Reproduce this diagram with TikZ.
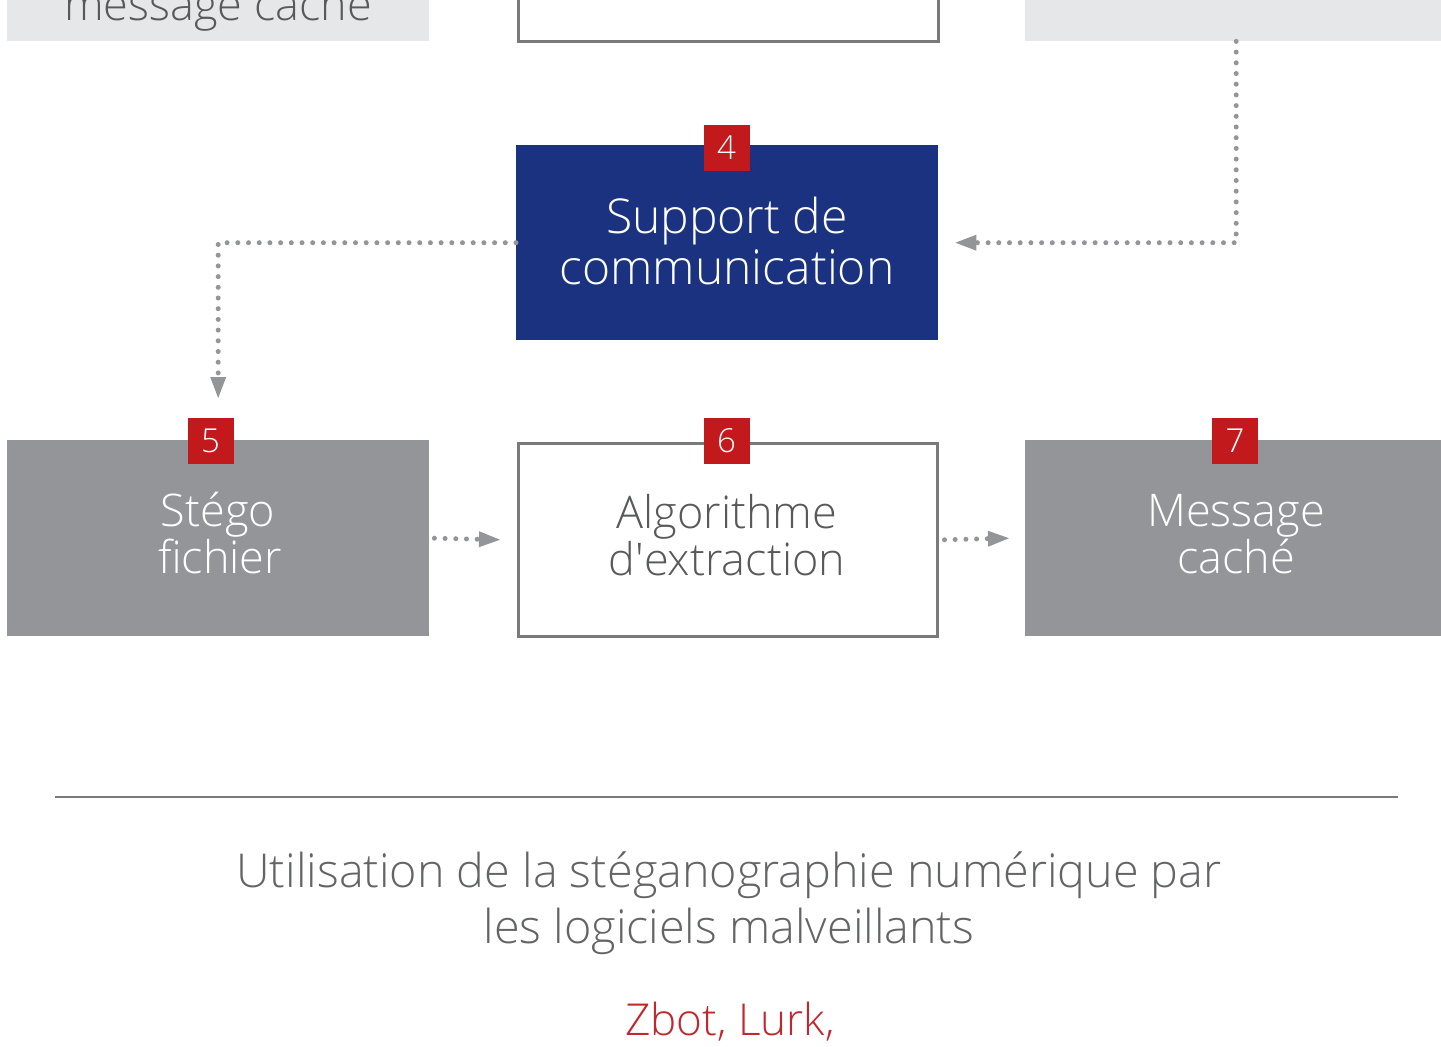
\documentclass[tikz,border=0pt]{standalone}
\usepackage{fontspec}
\setmainfont{Open Sans}[UprightFont={* Light}]
\usetikzlibrary{arrows.meta}
\definecolor{lightgr}{HTML}{E6E7E8}
\definecolor{boxgr}{HTML}{939598}
\definecolor{navy}{HTML}{1B3281}
\definecolor{badgered}{HTML}{C1191C}
\definecolor{edgegr}{HTML}{7A7A7A}
\definecolor{textgr}{HTML}{58595B}
\definecolor{titlegr}{HTML}{636466}
\definecolor{dotgr}{HTML}{939598}
\definecolor{zred}{HTML}{C1272D}
\tikzset{
  boxbase/.style={rectangle, inner sep=0pt, anchor=north west},
  lightbox/.style={boxbase, fill=lightgr},
  graybox/.style={boxbase, fill=boxgr},
  bluebox/.style={boxbase, fill=navy},
  whitebox/.style={boxbase, fill=white, draw=edgegr, line width=2.5pt},
  badge/.style={rectangle, fill=badgered, minimum width=46pt, minimum height=46pt, inner sep=0pt,
    text=white, font=\fontsize{33}{33}\selectfont},
  wlbl/.style={anchor=base, inner sep=0pt, text=white, font=\fontsize{45}{45}\selectfont},
  glbl/.style={anchor=base, inner sep=0pt, text=textgr, font=\fontsize{45}{45}\selectfont},
  conn/.style={draw=dotgr, line width=5pt, line cap=round, dash pattern=on 0pt off 10.7pt,
    -{Triangle[length=21pt,width=16pt,line width=0pt]}},
}
\begin{document}
\begin{tikzpicture}[x=1pt,y=-1pt]
\useasboundingbox (0,0) rectangle (1441,1047);
\clip (0,0) rectangle (1441,1047);
% top row (cropped)
\node[lightbox, minimum width=422pt, minimum height=196pt] (topL) at (7,-155) {};
\node[whitebox, minimum width=420pt, minimum height=195pt] (topM) at (517,-155) {};
\node[lightbox, minimum width=416pt, minimum height=196pt] (topR) at (1025,-155) {};
\node[anchor=base, inner sep=0pt, text=textgr, font=\fontsize{45}{45}\selectfont] (tlL) at (218,20) {message caché};
% middle
\node[bluebox, minimum width=422pt, minimum height=195pt] (b4) at (516,145) {};
\node[wlbl, font=\fontsize{48}{48}\selectfont] (b4a) at (727,233) {Support de};
\node[wlbl, font=\fontsize{48}{48}\selectfont] (b4b) at (727,284) {communication};
\node[badge] (n4) at (726.5,148) {4};
% bottom row
\node[graybox, minimum width=422pt, minimum height=196pt] (b5) at (7,440) {};
\node[wlbl] (b5a) at (218,526) {Stégo};
\node[wlbl] (b5b) at (220,573) {fichier};
\node[whitebox, minimum width=419pt, minimum height=193pt] (b6) at (517,442) {};
\node[glbl] (b6a) at (727,528) {Algorithme};
\node[glbl] (b6b) at (727,575) {d\textquotesingle extraction};
\node[graybox, minimum width=416pt, minimum height=196pt] (b7) at (1025,440) {};
\node[wlbl] (b7a) at (1236,526) {Message};
\node[wlbl] (b7b) at (1236,573) {caché};
\node[badge] (n5) at (210.5,441) {5};
\node[badge] (n6) at (726.5,441) {6};
\node[badge] (n7) at (1235,441) {7};
% connectors
\draw[conn] ([xshift=3pt]topR.south) |- ([xshift=17pt]b4.east);
\draw[conn] (b4.west) -| ([yshift=42pt]b5.north);
\draw[conn] ([xshift=5pt]b5.east) -- ([xshift=-17pt]b6.west);
\draw[conn] ([xshift=6pt]b6.east) -- ([xshift=-16pt]b7.west);
% rule and caption
\coordinate (rl) at (55,797);
\coordinate (rr) at (1398,797);
\draw[draw=edgegr, line width=2pt] (rl) -- (rr);
\node[anchor=base, inner sep=0pt, text=titlegr, font=\fontsize{46.7}{46.7}\selectfont] (t1) at (729,887) {Utilisation de la stéganographie numérique par};
\node[anchor=base, inner sep=0pt, text=titlegr, font=\fontsize{46.7}{46.7}\selectfont] (t2) at (729,943) {les logiciels malveillants};
\node[anchor=base, inner sep=0pt, text=zred, font=\fontsize{44}{44}\selectfont] (z) at (730,1035) {Zbot, Lurk,};
\end{tikzpicture}
\end{document}
